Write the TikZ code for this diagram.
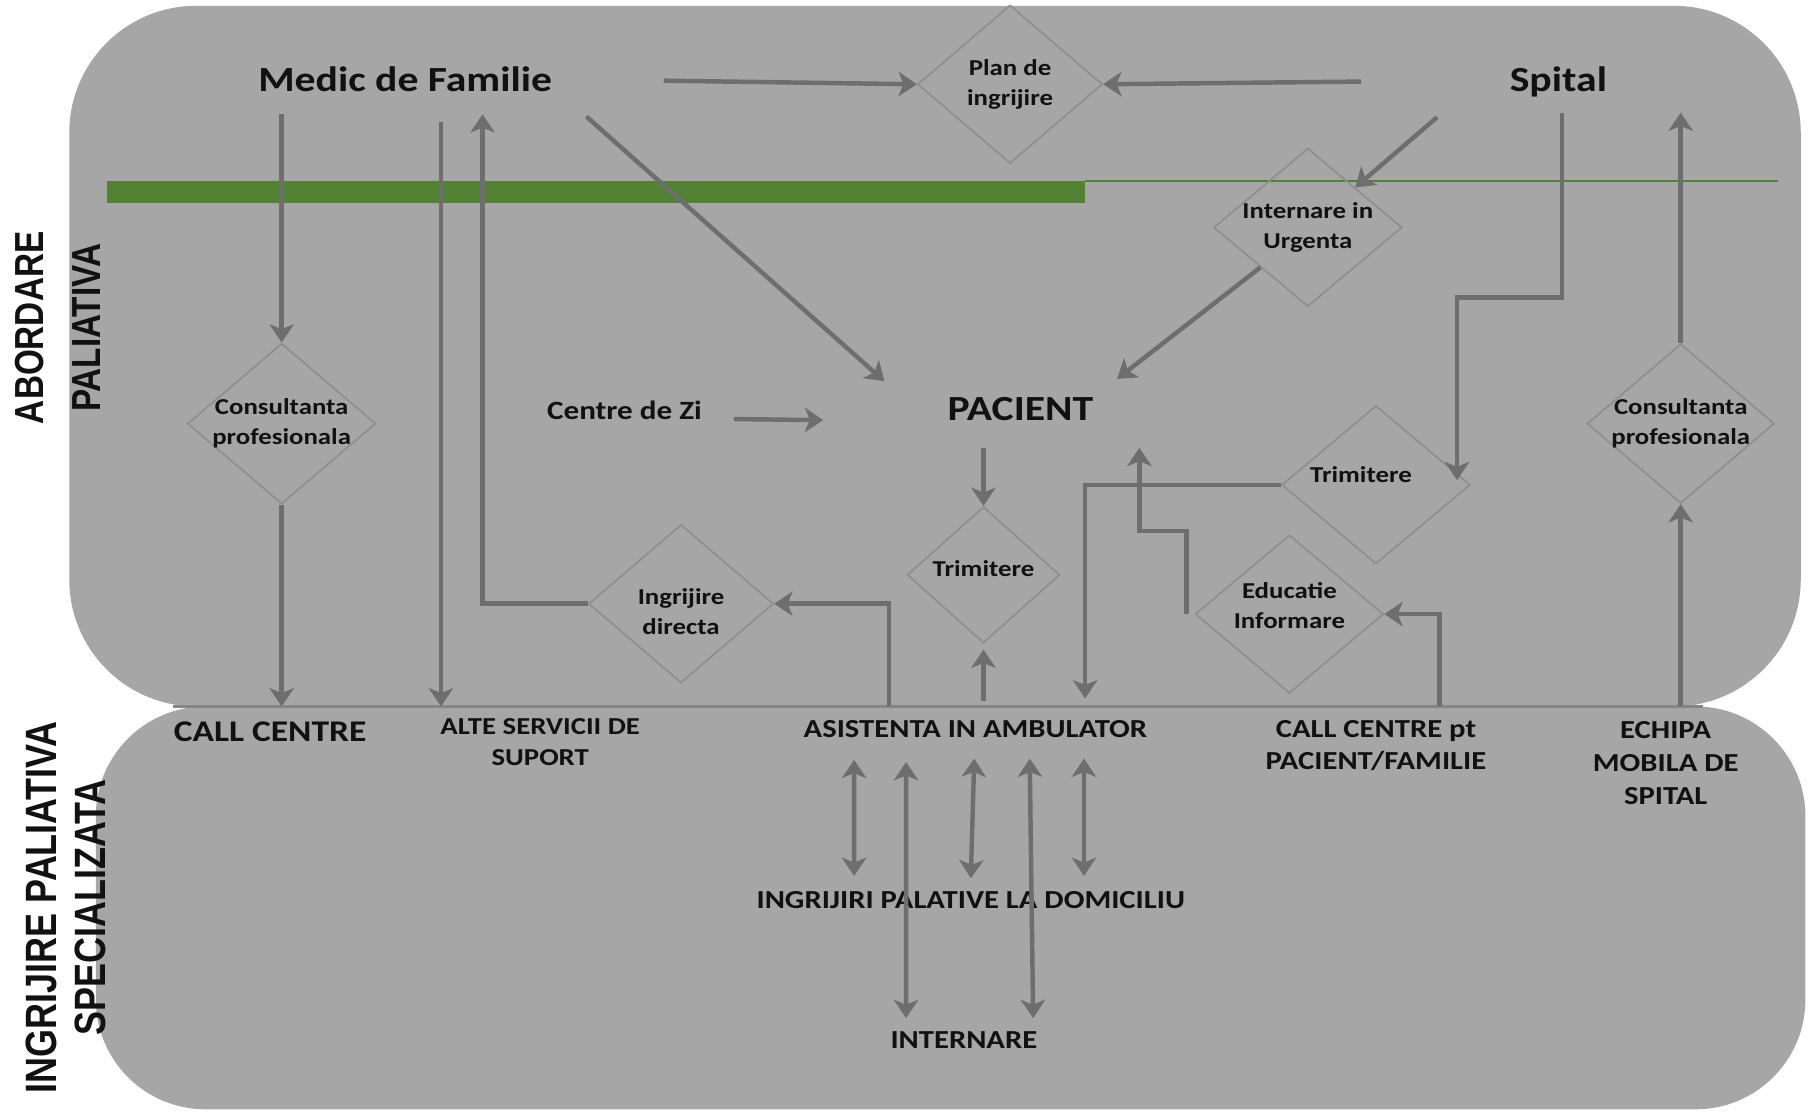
\documentclass[tikz,border=0pt]{standalone}
\usepackage{fontspec}
\usetikzlibrary{positioning, arrows.meta, shapes.geometric}
\newfontfamily\calfont{Carlito}[FakeStretch=1.18]
\newfontfamily\arfont{Liberation Sans}[FakeStretch=0.82]
\definecolor{boxgray}{HTML}{A6A6A6}
\definecolor{arrgray}{HTML}{6E6E6E}
\definecolor{diaedge}{HTML}{8E8E8E}
\definecolor{sepgray}{HTML}{858585}
\definecolor{barg}{HTML}{548235}
\definecolor{txt}{HTML}{111111}
\begin{document}
\begin{tikzpicture}[x=0.01cm,y=-0.01cm]
		\tikzstyle{big}=[inner sep=0pt, text=txt, font=\calfont\bfseries\fontsize{8.7}{10}\selectfont]
		\tikzstyle{mid}=[big, font=\calfont\bfseries\fontsize{6.5}{8}\selectfont]
		\tikzstyle{dtxt}=[inner sep=0pt, align=center, text=txt, font=\calfont\bfseries\fontsize{5.6}{7.4}\selectfont]
		\tikzstyle{lab}=[inner sep=0pt, align=center, text=txt, font=\calfont\bfseries\fontsize{6.4}{8}\selectfont]
		\tikzstyle{side}=[inner sep=0pt, align=center, rotate=90, text=txt, font=\arfont\bfseries\fontsize{10}{14.2}\selectfont]
		\tikzstyle{dia}=[diamond, draw=diaedge, line width=0.4pt, inner sep=0pt]
		\tikzstyle{arr}=[draw=arrgray, line width=1.1pt, -{Stealth[length=4.5pt,width=6pt,inset=1.2pt]}]
		\tikzstyle{dbl}=[arr, {Stealth[length=4.5pt,width=6pt,inset=1.2pt]}-{Stealth[length=4.5pt,width=6pt,inset=1.2pt]}]
		\useasboundingbox (0,0) rectangle (1568,963);
		\fill[boxgray, rounded corners=1.1cm] (60,5) rectangle (1560,612);
		\fill[boxgray, rounded corners=0.95cm] (83,612) rectangle (1564,961);
		\fill[barg] (93,157) rectangle (940,176);
		\draw[barg, line width=0.5pt] (940,157) -- (1540,157);
		\coordinate (bl) at (150,612);
		\coordinate (br) at (1475,612);
		\draw[sepgray, line width=0.8pt] (bl) -- (br);

		\node[side] (abord) at (50,284) {ABORDARE\\PALIATIVA};
		\node[side, font=\arfont\bfseries\fontsize{10.8}{12.1}\selectfont] (ingr) at (57,786) {INGRIJIRE PALIATIVA\\SPECIALIZATA};

		\node[big, anchor=base] (med) at (351,79) {Medic de Familie};
		\node[big, anchor=base] (spit) at (1350,79) {Spital};
		\node[big, anchor=base] (pac) at (884,364) {PACIENT};
		\node[mid, anchor=base] (czi) at (541,363) {Centre de Zi};

		\node[dia, minimum width=1.6cm, minimum height=1.37cm] (plan) at (875,73) {};
		\node[dtxt] (plant) at (plan) {Plan de\\ingrijire};
		\node[dia, minimum width=1.63cm, minimum height=1.37cm] (urg) at (1133,197) {};
		\node[dtxt] (urgt) at (urg) {Internare in\\Urgenta};
		\node[dia, minimum width=1.63cm, minimum height=1.39cm] (consL) at (244,367) {};
		\node[dtxt] (consLt) at (consL) {Consultanta\\profesionala};
		\node[dia, minimum width=1.62cm, minimum height=1.38cm] (consR) at (1456,367) {};
		\node[dtxt] (consRt) at (consR) {Consultanta\\profesionala};
		\node[dia, minimum width=1.63cm, minimum height=1.37cm] (trimR) at (1192,420) {};
		\node[dtxt] (trimRt) at ([xshift=-0.13cm,yshift=0.09cm]trimR) {Trimitere};
		\node[dia, minimum width=1.32cm, minimum height=1.18cm] (trimM) at (852,498) {};
		\node[dtxt] (trimMt) at ([yshift=0.05cm]trimM) {Trimitere};
		\node[dia, minimum width=1.6cm, minimum height=1.37cm] (ingd) at (590,523) {};
		\node[dtxt] (ingdt) at ([yshift=-0.07cm]ingd) {Ingrijire\\directa};
		\node[dia, minimum width=1.63cm, minimum height=1.37cm] (edu) at (1117,532) {};
		\node[dtxt] (edut) at ([yshift=0.07cm]edu) {Educatie\\Informare};

		\node[lab, font=\calfont\bfseries\fontsize{7.4}{9}\selectfont] (cc) at (234,634) {CALL CENTRE};
		\node[lab, font=\calfont\bfseries\fontsize{6}{7.7}\selectfont] (alte) at (468,643) {ALTE SERVICII DE\\SUPORT};
		\node[lab] (asist) at (845,632) {ASISTENTA IN AMBULATOR};
		\node[lab] (ccpf) at (1192,646) {CALL CENTRE pt\\PACIENT/FAMILIE};
		\node[lab, font=\calfont\bfseries\fontsize{6.4}{8.1}\selectfont] (echipa) at (1443,661) {ECHIPA\\MOBILA DE\\SPITAL};
		\node[lab] (domic) at (841,780) {INGRIJIRI PALATIVE LA DOMICILIU};
		\node[lab] (intern) at (835,901) {INTERNARE};

		\draw[arr] ([xshift=0.96cm,yshift=-0.015cm]med.east) -- (plan.west);
		\draw[arr] ([xshift=-1.28cm]spit.west) -- (plan.east);
		\draw[arr, shorten <=0.19cm] (consL.north |- med.south) -- (consL.north);
		\draw[arr] (consL.south) -- (consL.south |- bl);
		\draw[arr] ([xshift=0.31cm,yshift=-0.26cm]med.south) -- ([xshift=0.31cm]med.south |- bl);
		\draw[arr, shorten >=0.19cm] (ingd.west) -| ([xshift=0.67cm]med.south);
		\draw[arr] ([xshift=0.29cm,yshift=-0.21cm]med.south east) -- ([xshift=-0.54cm,yshift=0.13cm]pac.north west);
		\draw[arr] ([xshift=-1.05cm,yshift=-0.17cm]spit.south) -- (urg.north east);
		\draw[arr] (urg.south west) -- ([xshift=0.2cm,yshift=0.15cm]pac.north east);
		\draw[arr] ([xshift=0.03cm,yshift=-0.13cm]spit.south) -- ++(0,160) -| ([xshift=-0.12cm,yshift=0.04cm]trimR.east);
		\draw[arr] (consR.north) -- ([yshift=-0.13cm]consR.north |- spit.south);
		\draw[arr] (consR.south |- bl) -- (consR.south);
		\draw[arr] ([xshift=0.27cm]czi.base east) -- ([xshift=-1.07cm]pac.base west);
		\draw[arr, shorten <=0.23cm] (trimM.north |- pac.south) -- (trimM.north);
		\draw[arr, shorten <=0.05cm, shorten >=0.05cm] (trimM.south |- bl) -- (trimM.south);
		\draw[arr] ([xshift=-0.75cm]asist.north |- bl) |- (ingd.east);
		\draw[arr] (trimR.west) -| ([xshift=0.95cm,yshift=0.07cm]asist.north |- bl);
		\draw[arr, shorten >=0.23cm] ([xshift=-0.07cm]edu.west) -- ++(0,-72) -| ([xshift=1.03cm]pac.south);
		\draw[arr] ([xshift=0.55cm]ccpf.north |- bl) |- (edu.east);

		\draw[dbl] ([xshift=-1.05cm,yshift=-0.18cm]asist.south) -- ([xshift=-1.01cm,yshift=0.13cm]domic.north);
		\draw[dbl] ([xshift=-0.6cm,yshift=-0.2cm]asist.south) -- ([xshift=-0.5cm,yshift=0.11cm]intern.north);
		\draw[dbl] ([xshift=-0.01cm,yshift=-0.17cm]asist.south) -- ([yshift=0.11cm]domic.north);
		\draw[dbl] ([xshift=0.47cm,yshift=-0.17cm]asist.south) -- ([xshift=0.6cm,yshift=0.11cm]intern.north);
		\draw[dbl] ([xshift=0.94cm,yshift=-0.17cm]asist.south) -- ([xshift=0.98cm,yshift=0.13cm]domic.north);
\end{tikzpicture}
\end{document}
